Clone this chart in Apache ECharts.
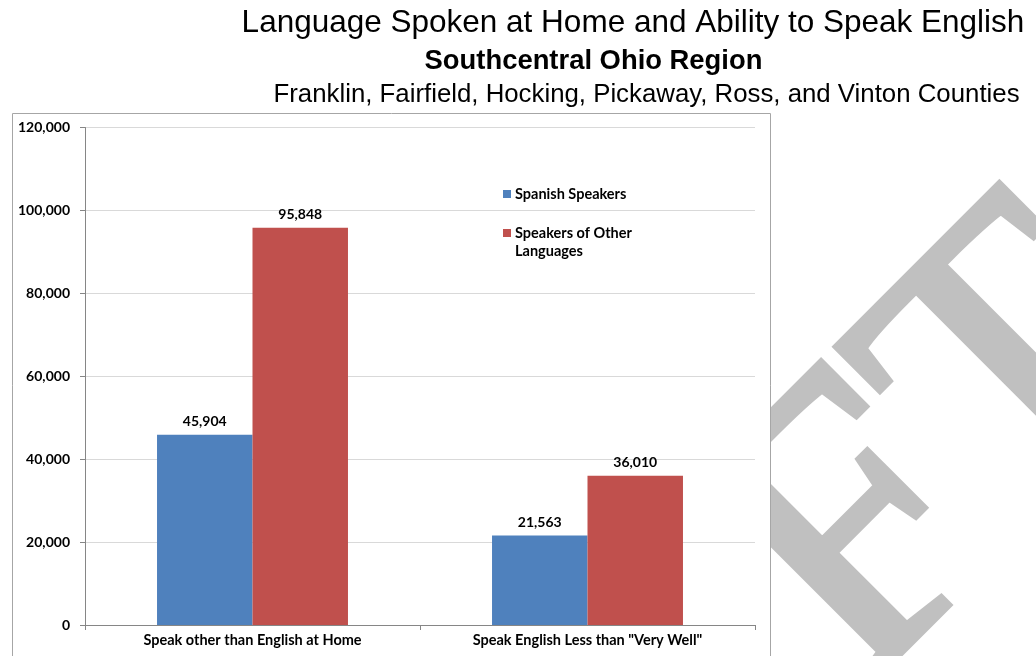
<!DOCTYPE html>
<html>
<head>
<meta charset="utf-8">
<script src="https://cdn.jsdelivr.net/npm/echarts@6/dist/echarts.min.js"></script>
<style>
  html, body { margin: 0; padding: 0; background: #fff; }
  #chart { width: 1036px; height: 656px; }
</style>
</head>
<body>
<div id="chart"></div>
<script>
// Language spoken at home, Southcentral Ohio Region
const categories = ['Speak other than English at Home', 'Speak English Less than "Very Well"'];
const seriesNames = ['Spanish Speakers', 'Speakers of Other Languages'];
const spanishSpeakers = [45904, 21563];
const otherSpeakers = [95848, 36010];
const seriesColors = ['#4f81bd', '#c0504d'];

const titleLines = [
  'Language Spoken at Home and Ability to Speak English',
  'Southcentral Ohio Region',
  'Franklin, Fairfield, Hocking, Pickaway, Ross, and Vinton Counties'
];

const labelFont = 'Lato, "Open Sans", sans-serif';
const fmt = v => v.toLocaleString('en-US');

const chart = echarts.init(document.getElementById('chart'), null, { renderer: 'canvas' });

// Legend drawn as a small graphic group so the wrapped name keeps its swatch on the first line
const legendItems = [
  { name: seriesNames[0], text: 'Spanish Speakers', y: 194 },
  { name: seriesNames[1], text: 'Speakers of Other\nLanguages', y: 233 }
];
const legendGraphics = [];
legendItems.forEach((it, i) => {
  legendGraphics.push({
    type: 'rect', z: 10,
    shape: { x: 503, y: it.y - 4, width: 8, height: 8 },
    style: { fill: seriesColors[i] }
  });
  legendGraphics.push({
    type: 'text', z: 10,
    x: 515, y: it.y - 9,
    style: {
      text: it.text, fill: '#000',
      font: 'bold 14.5px ' + labelFont,
      align: 'left', verticalAlign: 'top', lineHeight: 18
    }
  });
});

const option = {
  animation: false,
  backgroundColor: '#ffffff',
  grid: { left: 85, right: 281, top: 127.5, bottom: 31, containLabel: false },
  xAxis: {
    type: 'category',
    data: categories,
    axisLine: { lineStyle: { color: '#868686', width: 1 } },
    axisTick: { show: true, length: 5, lineStyle: { color: '#868686' } },
    axisLabel: {
      color: '#000', fontFamily: labelFont, fontWeight: 'bold', fontSize: 14.5, margin: 8
    }
  },
  yAxis: {
    type: 'value',
    min: 0, max: 120000, interval: 20000,
    axisLine: { show: true, lineStyle: { color: '#868686', width: 1 } },
    axisTick: { show: true, length: 5, lineStyle: { color: '#868686' } },
    splitLine: { lineStyle: { color: '#d9d9d9', width: 1 } },
    axisLabel: {
      color: '#000', fontFamily: labelFont, fontWeight: 'bold', fontSize: 14, margin: 15,
      formatter: v => fmt(v)
    }
  },
  series: [
    {
      name: seriesNames[0], type: 'bar', data: spanishSpeakers,
      barGap: '0%', barCategoryGap: '43%',
      itemStyle: { color: seriesColors[0] },
      label: {
        show: true, position: 'top', distance: 6, color: '#000',
        fontFamily: labelFont, fontWeight: 'bold', fontSize: 14,
        formatter: p => fmt(p.value)
      }
    },
    {
      name: seriesNames[1], type: 'bar', data: otherSpeakers,
      barGap: '0%', barCategoryGap: '43%',
      itemStyle: { color: seriesColors[1] },
      label: {
        show: true, position: 'top', distance: 6, color: '#000',
        fontFamily: labelFont, fontWeight: 'bold', fontSize: 14,
        formatter: p => fmt(p.value)
      }
    }
  ],
  graphic: [
    // DRAFT watermark, partly hidden behind the chart panel
    {
      type: 'text', z: -20,
      x: 1115, y: 290, rotation: Math.PI / 4,
      style: {
        text: 'DRAFT', fill: '#c0c0c0',
        stroke: '#c0c0c0', lineWidth: 7, lineJoin: 'round',
        font: 'normal 400px "Liberation Serif", "DejaVu Serif", serif',
        align: 'right', verticalAlign: 'middle'
      }
    },
    // chart panel
    {
      type: 'rect', z: -10,
      shape: { x: 12.5, y: 113.5, width: 758, height: 600 },
      style: { fill: '#ffffff', stroke: '#a6a6a6', lineWidth: 1 }
    },
    {
      type: 'text', z: 5, x: 633, y: 23,
      style: {
        text: titleLines[0], fill: '#000',
        font: 'normal 31.5px "Liberation Sans", Arial, sans-serif',
        align: 'center', verticalAlign: 'middle'
      }
    },
    {
      type: 'text', z: 5, x: 593.5, y: 61,
      style: {
        text: titleLines[1], fill: '#000',
        font: 'bold 27.4px "Liberation Sans", Arial, sans-serif',
        align: 'center', verticalAlign: 'middle'
      }
    },
    {
      type: 'text', z: 5, x: 646.5, y: 95,
      style: {
        text: titleLines[2], fill: '#000',
        font: 'normal 25.8px "Liberation Sans", Arial, sans-serif',
        align: 'center', verticalAlign: 'middle'
      }
    }
  ].concat(legendGraphics)
};

chart.setOption(option);
</script>
</body>
</html>
